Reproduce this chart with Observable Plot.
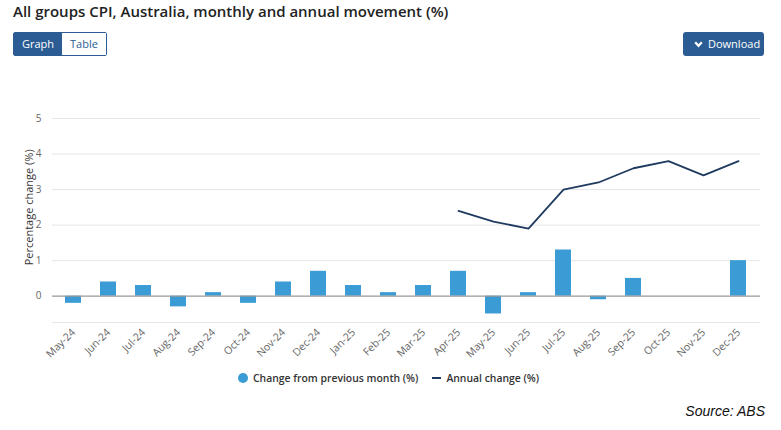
<!DOCTYPE html>
<html><head><meta charset="utf-8">
<script src="https://cdn.jsdelivr.net/npm/d3@7"></script>
<script src="https://cdn.jsdelivr.net/npm/@observablehq/plot@0.6"></script>
<style>
body{margin:0;background:#fff;font-family:"Open Sans",sans-serif;width:781px;height:430px;position:relative;overflow:hidden}
#title{position:absolute;left:13px;top:1px;font-size:15px;font-weight:600;color:#222;white-space:nowrap}
.btns{position:absolute;left:13px;top:32px;display:flex;height:24px;border:1px solid #2b5d94;border-radius:2px;box-sizing:border-box}
.btns div{font-size:11px;line-height:22px;padding:0 8px}
.b1{background:#2b5d94;color:#fff;width:32px}
.b2{background:#fff;color:#2b5d94;width:28px}
#dl{position:absolute;left:683px;top:32px;width:81px;height:24px;background:#2b5d94;color:#fff;border-radius:3px;font-size:11px;line-height:24px;display:flex;align-items:center}
#dl svg{margin:0 5px 0 11px}
#chart{position:absolute;left:0;top:100px}
#legend{position:absolute;top:371px;left:238px;font-size:10.4px;font-weight:600;color:#333;display:flex;align-items:center;white-space:nowrap}
.dot{display:inline-block;width:10px;height:10px;border-radius:50%;background:#3a9bd5;margin-right:5px}
.dash{display:inline-block;width:9px;height:2px;background:#1f3a5f;margin:0 5px 0 14px}
#source{position:absolute;right:16px;top:403px;font-family:"Liberation Sans",Arial,sans-serif;font-style:italic;font-size:14px;color:#111}
</style></head><body>
<div id="title">All groups CPI, Australia, monthly and annual movement (%)</div>
<div class="btns"><div class="b1">Graph</div><div class="b2">Table</div></div>
<div id="dl"><svg width="9" height="7" viewBox="0 0 9 7"><path d="M1.2 1.2 L4.5 4.8 L7.8 1.2" fill="none" stroke="#fff" stroke-width="2.2"/></svg>Download</div>
<div id="chart"></div>
<div id="legend"><span class="dot"></span>Change from previous month (%)<span class="dash"></span>Annual change (%)</div>
<div id="source">Source: ABS</div>
<script>
const months = ["May-24","Jun-24","Jul-24","Aug-24","Sep-24","Oct-24","Nov-24","Dec-24","Jan-25","Feb-25","Mar-25","Apr-25","May-25","Jun-25","Jul-25","Aug-25","Sep-25","Oct-25","Nov-25","Dec-25"];
const monthly = [-0.2,0.4,0.3,-0.3,0.1,-0.2,0.4,0.7,0.3,0.1,0.3,0.7,-0.5,0.1,1.3,-0.1,0.5,0.0,0.0,1.0];
const annualMonths = ["Apr-25","May-25","Jun-25","Jul-25","Aug-25","Sep-25","Oct-25","Nov-25","Dec-25"];
const annual = [2.4,2.1,1.9,3.0,3.2,3.6,3.8,3.4,3.8];
const yTicks = [0,1,2,3,4,5];

const barData = months.map((m,i)=>({m, v: monthly[i]}));
const lineData = annualMonths.map((m,i)=>({m, v: annual[i]}));

const chart = Plot.plot({
  width: 781, height: 265,
  marginLeft: 52, marginRight: 21, marginTop: 18, marginBottom: 43,
  style: {fontFamily: "Open Sans, sans-serif", fontSize: "10.5px", color: "#666", background: "transparent"},
  x: {type: "band", domain: months, paddingInner: 0.53, paddingOuter: 0.3, align: 0.5, label: null},
  y: {domain: [-0.74, 5], label: null},
  marks: [
    Plot.ruleY(yTicks.filter(d=>d!==0), {stroke: "#e6e6e6", strokeWidth: 1}),
    Plot.ruleY([-0.74], {stroke: "#e6e6e6"}),
    Plot.barY(barData, {x: "m", y: "v", fill: "#3a9bd5"}),
    Plot.ruleY([0], {stroke: "#999", strokeWidth: 1.2}),
    Plot.line(lineData, {x: "m", y: "v", stroke: "#1f3a5f", strokeWidth: 1.8}),
    Plot.axisY(yTicks, {tickSize: 0, tickPadding: 11, label: null, fill: "#666", fontSize: 10}),
    Plot.axisX({tickSize: 0, tickRotate: -45, tickPadding: 8, label: null, fill: "#666"}),
    Plot.text(["Percentage change (%)"], {frameAnchor: "left", dx: -23, textAnchor: "middle", rotate: -90, fontSize: 11, fill: "#333", y: 2.5})
  ]
});
document.getElementById("chart").appendChild(chart);
</script>
</body></html>
